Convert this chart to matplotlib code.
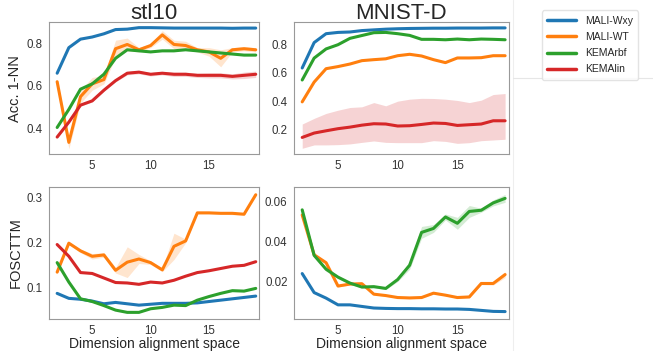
import matplotlib
matplotlib.use("Agg")
import matplotlib.pyplot as plt
import seaborn as sns
import numpy as np
from matplotlib.lines import Line2D

sns.set_style("white")
plt.rcParams['font.family'] = ['Liberation Sans', 'DejaVu Sans']

dims = list(range(2, 20))
methods = ["MALI-Wxy", "MALI-WT", "KEMArbf", "KEMAlin"]
colors = ["#1f77b4", "#ff7f0e", "#2ca02c", "#d62728"]

# stl10, accuracy 1-NN
stl_acc_wxy = [0.66, 0.78, 0.82, 0.83, 0.845, 0.865, 0.867, 0.874, 0.874, 0.873, 0.872,
               0.872, 0.872, 0.872, 0.872, 0.871, 0.872, 0.872]
stl_acc_wt = [0.62, 0.335, 0.55, 0.61, 0.63, 0.775, 0.795, 0.77, 0.79, 0.84, 0.795,
              0.79, 0.77, 0.76, 0.73, 0.77, 0.775, 0.77]
stl_acc_wt_sd = [0.01, 0.03, 0.03, 0.03, 0.02, 0.04, 0.03, 0.01, 0.01, 0.02, 0.02,
                 0.02, 0.01, 0.02, 0.04, 0.01, 0.01, 0.01]
stl_acc_rbf = [0.405, 0.49, 0.585, 0.61, 0.655, 0.73, 0.77, 0.765, 0.76, 0.765, 0.765,
               0.77, 0.765, 0.76, 0.755, 0.75, 0.745, 0.745]
stl_acc_lin = [0.36, 0.43, 0.51, 0.53, 0.58, 0.625, 0.66, 0.665, 0.655, 0.66, 0.655,
               0.655, 0.65, 0.65, 0.65, 0.645, 0.65, 0.655]
stl_acc_lin_sd = [0.005, 0.005, 0.005, 0.005, 0.005, 0.005, 0.008, 0.008, 0.008, 0.008,
                  0.01, 0.01, 0.01, 0.012, 0.012, 0.012, 0.015, 0.015]

# MNIST-D, accuracy 1-NN
mn_acc_wxy = [0.635, 0.815, 0.878, 0.887, 0.89, 0.9, 0.905, 0.91, 0.913, 0.915, 0.916,
              0.917, 0.917, 0.918, 0.918, 0.918, 0.919, 0.919]
mn_acc_wt = [0.395, 0.535, 0.63, 0.645, 0.663, 0.687, 0.694, 0.7, 0.722, 0.732, 0.72,
             0.694, 0.673, 0.706, 0.706, 0.708, 0.722, 0.722]
mn_acc_rbf = [0.55, 0.705, 0.77, 0.8, 0.845, 0.865, 0.885, 0.887, 0.878, 0.866, 0.838,
              0.838, 0.835, 0.84, 0.835, 0.84, 0.838, 0.835]
mn_acc_lin = [0.143, 0.174, 0.19, 0.205, 0.216, 0.23, 0.24, 0.238, 0.224, 0.226, 0.235,
              0.245, 0.242, 0.228, 0.233, 0.238, 0.261, 0.261]
mn_acc_lin_hi = [0.238, 0.278, 0.313, 0.336, 0.355, 0.36, 0.39, 0.367, 0.4, 0.414, 0.42,
                 0.419, 0.414, 0.405, 0.39, 0.407, 0.447, 0.454]
mn_acc_lin_lo = [0.066, 0.09, 0.09, 0.092, 0.097, 0.108, 0.118, 0.108, 0.106, 0.106, 0.106,
                 0.12, 0.115, 0.101, 0.106, 0.12, 0.125, 0.13]

# stl10, FOSCTTM
stl_fos_wxy = [0.087, 0.076, 0.074, 0.07, 0.064, 0.067, 0.064, 0.061, 0.063, 0.065, 0.065,
               0.065, 0.066, 0.069, 0.072, 0.075, 0.078, 0.081]
stl_fos_wt = [0.134, 0.198, 0.181, 0.169, 0.172, 0.138, 0.156, 0.163, 0.155, 0.139, 0.191,
              0.203, 0.265, 0.265, 0.264, 0.264, 0.262, 0.305]
stl_fos_wt_sd = [0.004, 0.003, 0.004, 0.006, 0.005, 0.006, 0.034, 0.01, 0.004, 0.004, 0.029,
                 0.004, 0.002, 0.002, 0.002, 0.003, 0.002, 0.002]
stl_fos_rbf = [0.155, 0.112, 0.075, 0.069, 0.06, 0.05, 0.045, 0.045, 0.053, 0.056, 0.061,
               0.06, 0.072, 0.08, 0.087, 0.093, 0.092, 0.098]
stl_fos_lin = [0.195, 0.169, 0.133, 0.131, 0.121, 0.111, 0.11, 0.107, 0.112, 0.11, 0.116,
               0.125, 0.133, 0.137, 0.142, 0.147, 0.149, 0.157]

# MNIST-D, FOSCTTM
mn_fos_wxy = [0.0238, 0.0142, 0.0114, 0.008, 0.008, 0.0072, 0.0064, 0.0062, 0.0061, 0.0061,
              0.006, 0.006, 0.0059, 0.0059, 0.0057, 0.0052, 0.0047, 0.0046]
mn_fos_wt = [0.0534, 0.0333, 0.0293, 0.0175, 0.0185, 0.0187, 0.0134, 0.0127, 0.0117, 0.0115,
             0.0117, 0.0139, 0.0129, 0.0117, 0.012, 0.0188, 0.0188, 0.0233]
mn_fos_wt_sd = [0.0005, 0.0005, 0.0005, 0.0005, 0.0004, 0.0004, 0.0004, 0.0004, 0.0004,
                0.0004, 0.0004, 0.0004, 0.0004, 0.0004, 0.0005, 0.0006, 0.0008, 0.0015]
mn_fos_rbf = [0.056, 0.033, 0.026, 0.022, 0.019, 0.017, 0.0172, 0.0163, 0.0208, 0.028,
              0.0446, 0.0466, 0.0524, 0.0492, 0.0552, 0.0558, 0.0595, 0.0618]
mn_fos_rbf_sd = [0.0008, 0.0008, 0.001, 0.0008, 0.0006, 0.0006, 0.0006, 0.0006, 0.001, 0.002,
                 0.003, 0.002, 0.0015, 0.003, 0.003, 0.001, 0.0015, 0.002]


def band(mean, sd):
    m, s = np.array(mean), np.array(sd)
    return m - s, m + s


fig = plt.figure(figsize=(6.53, 3.51), dpi=100)
ax_tl = fig.add_axes([0.075, 0.561, 0.322, 0.376])
ax_tr = fig.add_axes([0.450, 0.561, 0.329, 0.376])
ax_bl = fig.add_axes([0.075, 0.092, 0.322, 0.375])
ax_br = fig.add_axes([0.450, 0.092, 0.329, 0.375])

panels = [
    (ax_tl, [stl_acc_wxy, stl_acc_wt, stl_acc_rbf, stl_acc_lin],
     {1: band(stl_acc_wt, stl_acc_wt_sd), 3: band(stl_acc_lin, stl_acc_lin_sd)}),
    (ax_tr, [mn_acc_wxy, mn_acc_wt, mn_acc_rbf, mn_acc_lin],
     {3: (mn_acc_lin_lo, mn_acc_lin_hi)}),
    (ax_bl, [stl_fos_wxy, stl_fos_wt, stl_fos_rbf, stl_fos_lin],
     {1: band(stl_fos_wt, stl_fos_wt_sd)}),
    (ax_br, [mn_fos_wxy, mn_fos_wt, mn_fos_rbf],
     {1: band(mn_fos_wt, mn_fos_wt_sd), 2: band(mn_fos_rbf, mn_fos_rbf_sd)}),
]

for ax, series, bands in panels:
    for i, ys in enumerate(series):
        if i in bands:
            lo, hi = bands[i]
            ax.fill_between(dims, lo, hi, color=colors[i], alpha=0.2, lw=0)
        ax.plot(dims, ys, color=colors[i], lw=2.2, label=methods[i])
    ax.set_xlim(1.3, 19.3)
    ax.set_xticks([5, 10, 15])
    ax.tick_params(labelsize=8.3, pad=1, colors='#333333')
    for sp in ax.spines.values():
        sp.set_color('#999999')

ax_tl.set_ylim(0.28, 0.9)
ax_tl.set_yticks([0.4, 0.6, 0.8])
ax_tr.set_ylim(0.025, 0.96)
ax_tr.set_yticks([0.2, 0.4, 0.6, 0.8])
ax_bl.set_ylim(0.031, 0.322)
ax_bl.set_yticks([0.1, 0.2, 0.3])
ax_br.set_ylim(0.001, 0.0675)
ax_br.set_yticks([0.02, 0.04, 0.06])

ax_tl.set_title("stl10", fontsize=16, pad=2, color='#262626')
ax_tr.set_title("MNIST-D", fontsize=16, pad=2, color='#262626')
ax_tl.set_ylabel("Acc. 1-NN", fontsize=10.5, labelpad=3, color='#262626')
ax_bl.set_ylabel("FOSCTTM", fontsize=10.5, labelpad=3, color='#262626')
ax_bl.set_xlabel("Dimension alignment space", fontsize=10, labelpad=0, color='#262626')
ax_br.set_xlabel("Dimension alignment space", fontsize=10, labelpad=0, color='#262626')

# faint frame of the empty column on the right
fig.add_artist(Line2D([0.785, 0.785], [0.0, 1.0], color='#eeeeee', lw=0.8))
fig.add_artist(Line2D([0.785, 1.0], [0.778, 0.778], color='#e6e6e6', lw=0.8))

handles = [Line2D([], [], color=c, lw=2.5) for c in colors]
leg = fig.legend(handles, methods, loc='upper left', bbox_to_anchor=(0.822, 0.985),
                 fontsize=7.5, frameon=True, handlelength=2.8, borderpad=0.5,
                 labelspacing=0.6, handletextpad=0.8)
leg.get_frame().set_edgecolor('#dddddd')
for t in leg.get_texts():
    t.set_color('#262626')

fig.savefig("out.png", dpi=100)
